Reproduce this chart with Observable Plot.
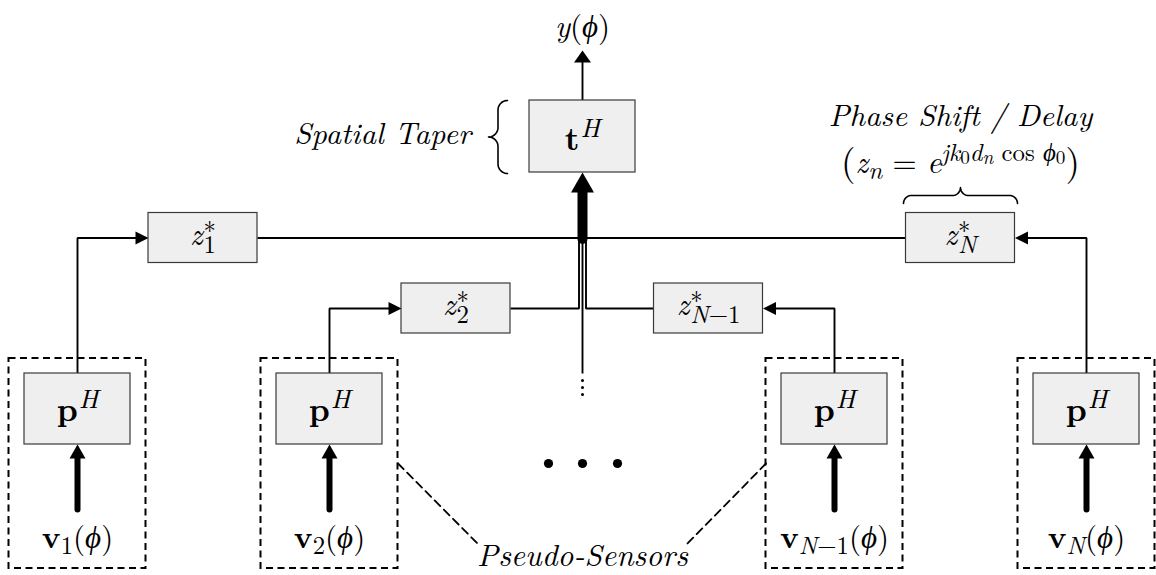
<!DOCTYPE html>
<html>
<head>
<meta charset="utf-8">
<script src="https://cdn.jsdelivr.net/npm/d3@7"></script>
<script src="https://cdn.jsdelivr.net/npm/@observablehq/plot@0.6"></script>
<style>
  html, body { margin: 0; padding: 0; background: #fff; }
</style>
</head>
<body>
<div id="chart"></div>
<script>
// ---------------- diagram data ----------------
const sensorIndex = ["1", "2", "N−1", "N"];          // pseudo-sensor subscripts
const sensorX     = [77, 329, 834, 1086];            // sensor column centres
const delayIndex  = ["1", "2", "N−1", "N"];          // delay block subscripts
const delayX      = [202.5, 455.5, 708, 960];        // delay block centres
const delayY      = [237.5, 308, 308, 237.5];
const taperBox    = {x1: 529, x2: 635, y1: 100, y2: 172};
const ellipsisX   = [548, 582, 617];
const vDotsY      = [380, 387, 394];
const PHI = "ϕ";

const W = 1156, H = 575;
const S = 31;        // base math font size

// ---------------- pick an installed serif face ----------------
const ctx = document.createElement("canvas").getContext("2d");
function installed(f) {
  const t = "mmmmmmmmmmlliWWQ@#gq";
  const res = [];
  for (const g of ["monospace", "sans-serif", "serif"]) {
    ctx.font = `40px ${g}`; const a = ctx.measureText(t).width;
    ctx.font = `40px "${f}", ${g}`; const b = ctx.measureText(t).width;
    res.push(a !== b);
  }
  return res.some(Boolean);
}
const candidates = ["Latin Modern Roman", "CMU Serif", "Liberation Serif", "DejaVu Serif", "Noto Serif", "Tinos",
  "Times New Roman", "Nimbus Roman", "FreeSerif", "Noto Serif CJK SC", "Noto Serif CJK JP", "Lato"];
const chosen = candidates.find(installed) || "DejaVu Sans";
const FONT = `"${chosen}"`;

function measure(t, size, it, bf) {
  ctx.font = `${it ? "italic " : ""}${bf ? "bold " : ""}${size}px ${FONT}`;
  return ctx.measureText(t).width;
}
function ascent(size) {
  ctx.font = `${size}px ${FONT}`;
  const m = ctx.measureText("y(");
  return m.fontBoundingBoxAscent || size * 0.9;
}
const LEVELS = {
  base:   {k: 1,    dy: 0},
  sup:    {k: 0.8,  dy: -0.38},
  sub:    {k: 0.8,  dy: 0.20},
  subs:   {k: 0.8,  dy: 0.27},
  supsub: {k: 0.62, dy: -0.26},
  big:    {k: 1.2,  dy: 0.08}
};
function indexRuns(s, lvl) {
  const out = [];
  for (const ch of s) {
    const it = /[A-Za-z]/.test(ch);
    const last = out[out.length - 1];
    if (last && last.it === it) last.t += ch;
    else out.push({t: ch, it, lvl});
  }
  return out;
}
function layout(label) {
  const pieces = [];
  let x = 0, stackEnd = 0;
  for (const r of label.runs) {
    const L = LEVELS[r.lvl || "base"];
    const size = label.size * L.k;
    const w = measure(r.t, size, r.it, r.bf);
    const x0 = x + (r.pre || 0) * label.size;
    pieces.push({t: r.t, x: x0, dy: L.dy * label.size, size, it: !!r.it, bf: !!r.bf});
    x = x0 + w + (r.post || 0) * label.size;
    if (r.stack) { stackEnd = x; x = x0 + (r.back || 0) * label.size; }
  }
  const total = Math.max(x, stackEnd);
  const left = label.cx - total / 2;
  return pieces.map(p => ({...p, x: left + p.x, y: label.base + p.dy}));
}
function arrowSymbol(dir, L, Wd) {
  return {
    draw(c) {
      const pts = [[0, 0], [-Wd / 2, L], [Wd / 2, L]];
      const rot = {up: p => p, down: p => [p[0], -p[1]], right: p => [-p[1], p[0]], left: p => [p[1], p[0]]}[dir];
      const q = pts.map(rot);
      c.moveTo(q[0][0], q[0][1]);
      c.lineTo(q[1][0], q[1][1]);
      c.lineTo(q[2][0], q[2][1]);
      c.closePath();
    }
  };
}
function brace(t0, t1, tipPos, depth, horizontal, id) {
  const Lb = t1 - t0, r = depth / 2, n = 12, half = [];
  for (let i = 0; i <= n; i++) { const th = Math.PI + (Math.PI / 2) * i / n; half.push([r + r * Math.cos(th), depth + r * Math.sin(th)]); }
  for (let i = 0; i <= n; i++) { const th = Math.PI / 2 - (Math.PI / 2) * i / n; half.push([Lb / 2 - r + r * Math.cos(th), r * Math.sin(th)]); }
  const full = half.concat(half.slice().reverse().map(([t, d]) => [Lb - t, d]));
  return full.map(([t, d]) => horizontal ? {x: t0 + t, y: tipPos + d, id} : {x: tipPos + d, y: t0 + t, id});
}

// ---------------- geometry built from data ----------------
const pBoxes = sensorX.map(x => ({x1: x - 53, x2: x + 53, y1: 373, y2: 444}));
const dashBoxes = sensorX.map(x => ({x1: x - 68.5, x2: x + 68.5, y1: 358, y2: 568}));
const zBoxes = delayX.map((x, i) => ({x1: x - 54.5, x2: x + 54.5, y1: delayY[i] - 25, y2: delayY[i] + 25}));
const boxes = [taperBox, ...pBoxes, ...zBoxes];

// output label sits just inside the top edge
const outSize = 31;
const outBase = Math.max(28, Math.ceil(ascent(outSize)) + 1);
const outTip = outBase + 14;

const thinLines = [];
const rightHeads = [], leftHeads = [];
sensorX.forEach((sx, i) => {
  const b = zBoxes[i];
  const toRight = sx < b.x1;
  const tip = toRight ? b.x1 : b.x2;
  const end = toRight ? tip - 6 : tip + 6;
  thinLines.push({x: sx, y: 373, id: "s" + i}, {x: sx, y: delayY[i], id: "s" + i}, {x: end, y: delayY[i], id: "s" + i});
  (toRight ? rightHeads : leftHeads).push({x: tip, y: delayY[i]});
});
const cX = (taperBox.x1 + taperBox.x2) / 2;
thinLines.push({x: zBoxes[0].x2, y: delayY[0], id: "bus"}, {x: zBoxes[3].x1, y: delayY[3], id: "bus"});
thinLines.push({x: zBoxes[1].x2, y: delayY[1], id: "b2"}, {x: cX - 3.5, y: delayY[1], id: "b2"}, {x: cX - 3.5, y: delayY[0], id: "b2"});
thinLines.push({x: zBoxes[2].x1, y: delayY[2], id: "b3"}, {x: cX + 3.5, y: delayY[2], id: "b3"}, {x: cX + 3.5, y: delayY[0], id: "b3"});
thinLines.push({x: cX, y: delayY[0], id: "mid"}, {x: cX, y: 373, id: "mid"});
thinLines.push({x: cX, y: taperBox.y1, id: "out"}, {x: cX, y: outTip + 8, id: "out"});

const sensorShafts = sensorX.flatMap((x, i) => [{x, y: 509, id: i}, {x, y: 456, id: i}]);
const sensorHeads = sensorX.map(x => ({x, y: 444}));
const bigShaft = [{x: cX, y: delayY[0] + 1}, {x: cX, y: 190}];

const leaders = [
  {x: dashBoxes[1].x2, y: 463, id: "l"}, {x: 477, y: 543, id: "l"},
  {x: dashBoxes[2].x1, y: 463, id: "r"}, {x: 687, y: 543, id: "r"}
];
const braces = [
  ...brace(taperBox.y1, taperBox.y2 + 1, 488, 19, false, "vb"),
  ...brace(903, 1017, 187, 16, true, "hb")
];

// ---------------- labels ----------------
const labels = [
  {cx: cX, base: outBase, size: outSize, runs: [{t: "y", it: true}, {t: "("}, {t: PHI, it: true}, {t: ")"}]},
  {cx: 382, base: 143, size: 30.5, runs: [{t: "Spatial Taper", it: true}]},
  {cx: cX, base: 149, size: 33, runs: [{t: "t", bf: true}, {t: "H", it: true, lvl: "sup", pre: 0.03}]},
  {cx: 960, base: 125, size: 30.5, runs: [{t: "Phase Shift / Delay", it: true}]},
  {cx: 960, base: 172, size: S, runs: [
    {t: "(", lvl: "big"}, {t: "z", it: true}, {t: "n", it: true, lvl: "sub"}, {t: " = "}, {t: "e", it: true},
    {t: "jk", it: true, lvl: "sup"}, {t: "0", lvl: "supsub"}, {t: "d", it: true, lvl: "sup"}, {t: "n", it: true, lvl: "supsub"},
    {t: " cos ", lvl: "sup"}, {t: PHI, it: true, lvl: "sup"}, {t: "0", lvl: "supsub"}, {t: ")", lvl: "big"}]},
  {cx: 582, base: 565, size: S, runs: [{t: "Pseudo-Sensors", it: true}]},
  ...sensorX.map(x => ({cx: x, base: 420, size: 33, runs: [{t: "p", bf: true}, {t: "H", it: true, lvl: "sup", pre: 0.03}]})),
  ...sensorX.map((x, i) => ({cx: x, base: 547, size: S, runs: [{t: "v", bf: true}, ...indexRuns(sensorIndex[i], "sub"), {t: "("}, {t: PHI, it: true}, {t: ")"}]})),
  ...delayX.map((x, i) => ({cx: x, base: delayY[i] + 6.5, size: S, runs: [{t: "z", it: true}, {t: "∗", lvl: "sup", stack: true, pre: 0.03}, ...indexRuns(delayIndex[i], "subs")]}))
];
const pieces = labels.flatMap(layout);
const textMark = (it, bf) => Plot.text(pieces.filter(p => p.it === it && p.bf === bf), {
  x: "x", y: "y", text: "t", fontSize: d => d.size, fontFamily: FONT,
  fontStyle: it ? "italic" : "normal", fontWeight: bf ? "bold" : "normal",
  textAnchor: "start", lineAnchor: "bottom", fill: "#000"
});

// ---------------- plot ----------------
const chart = Plot.plot({
  width: W, height: H,
  margin: 0,
  x: {domain: [0, W], range: [0, W], axis: null},
  y: {domain: [0, H], range: [0, H], axis: null},
  style: {background: "#fff", fontFamily: FONT},
  marks: [
    Plot.rect(dashBoxes, {x1: "x1", x2: "x2", y1: "y1", y2: "y2", fill: "none", stroke: "#000", strokeWidth: 2, strokeDasharray: "7,4.5"}),
    Plot.line(leaders, {x: "x", y: "y", z: "id", stroke: "#000", strokeWidth: 1.8, strokeDasharray: "8,5"}),
    Plot.line(thinLines, {x: "x", y: "y", z: "id", stroke: "#000", strokeWidth: 1.9, strokeLinejoin: "miter", strokeLinecap: "butt"}),
    Plot.line(sensorShafts, {x: "x", y: "y", z: "id", stroke: "#000", strokeWidth: 6}),
    Plot.line(bigShaft, {x: "x", y: "y", stroke: "#000", strokeWidth: 10}),
    Plot.rect(boxes, {x1: "x1", x2: "x2", y1: "y1", y2: "y2", fill: "#efefef", stroke: "#3a3a3a", strokeWidth: 1.2}),
    Plot.dot(rightHeads, {x: "x", y: "y", r: 6, symbol: arrowSymbol("right", 13, 13), fill: "#000", stroke: "none"}),
    Plot.dot(leftHeads, {x: "x", y: "y", r: 6, symbol: arrowSymbol("left", 13, 13), fill: "#000", stroke: "none"}),
    Plot.dot(sensorHeads, {x: "x", y: "y", r: 6, symbol: arrowSymbol("up", 14, 16), fill: "#000", stroke: "none"}),
    Plot.dot([{x: cX, y: taperBox.y2}], {x: "x", y: "y", r: 6, symbol: arrowSymbol("up", 20, 23), fill: "#000", stroke: "none"}),
    Plot.dot([{x: cX, y: outTip}], {x: "x", y: "y", r: 6, symbol: arrowSymbol("up", 12, 17), fill: "#000", stroke: "none"}),
    Plot.line(braces, {x: "x", y: "y", z: "id", stroke: "#000", strokeWidth: 1.6, curve: "linear"}),
    Plot.dot(ellipsisX.map(x => ({x, y: 463})), {x: "x", y: "y", r: 4.6, fill: "#000", stroke: "none"}),
    Plot.dot(vDotsY.map(y => ({x: cX, y})), {x: "x", y: "y", r: 1.5, fill: "#000", stroke: "none"}),
    textMark(false, false), textMark(true, false), textMark(false, true), textMark(true, true)
  ]
});
document.getElementById("chart").appendChild(chart);
</script>
</body>
</html>
